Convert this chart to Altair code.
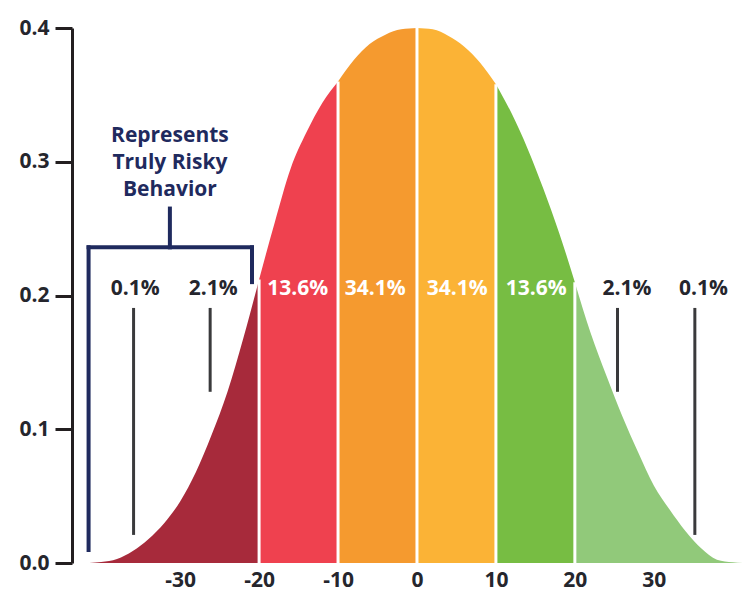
import altair as alt
import pandas as pd

# Curve (x in axis units, y = density)
curve_x = [-41.5, -40, -38, -36, -34, -32, -30, -28, -26, -24, -22, -20, -18, -16, -14, -12,
           -10, -8, -6, -4, -2, 0, 2, 4, 6, 8, 10, 12, 14, 16, 18, 20, 22, 24, 26, 28, 30,
           32, 34, 36, 38, 40, 41.5]
curve_y = [0.0, 0.0008, 0.003, 0.009, 0.018, 0.030, 0.046, 0.068, 0.096, 0.128, 0.168, 0.212,
           0.255, 0.295, 0.322, 0.344, 0.360, 0.376, 0.388, 0.395, 0.399, 0.400, 0.399, 0.394,
           0.386, 0.374, 0.358, 0.336, 0.310, 0.280, 0.247, 0.210, 0.172, 0.140, 0.110, 0.083,
           0.058, 0.040, 0.024, 0.011, 0.0025, 0.0005, 0.0]

boundaries = [-20, -10, 0, 10, 20]
seg_names = ["far left", "left 2", "left 1", "right 1", "right 2", "far right"]
seg_colors = ["#A72A3B", "#EF414F", "#F59A2F", "#FBB336", "#77BD43", "#91C97A"]

pct_labels = ["0.1%", "2.1%", "13.6%", "34.1%", "34.1%", "13.6%", "2.1%", "0.1%"]
pct_x = [-35.7, -25.8, -15.1, -5.3, 5.1, 15.1, 26.6, 36.3]
pct_dark = [True, True, False, False, False, False, True, True]

x_ticks = [-30, -20, -10, 0, 10, 20, 30]
y_ticks = [0.0, 0.1, 0.2, 0.3, 0.4]

bracket_text = ["Represents", "Truly Risky", "Behavior"]

FONT = "Open Sans"
DARK = "#25262D"
NAVY = "#1F2A5E"
GRAY = "#3A3A3C"

edges = [curve_x[0]] + boundaries + [curve_x[-1]]
rows = []
for i, name in enumerate(seg_names):
    lo, hi = edges[i], edges[i + 1]
    for x, y in zip(curve_x, curve_y):
        if lo <= x <= hi:
            rows.append({"x": x, "y": y, "seg": name})
df = pd.DataFrame(rows)
sep_df = pd.DataFrame([{"x": x, "y": y} for x, y in zip(curve_x, curve_y) if x in boundaries])

xs = alt.Scale(domain=[-43.7, 41.3], nice=False, zero=False)
ys = alt.Scale(domain=[0, 0.4], nice=False)

area = alt.Chart(df).mark_area(interpolate="monotone").encode(
    x=alt.X("x:Q", scale=xs, axis=alt.Axis(
        values=x_ticks, domain=False, ticks=False, grid=False, title=None,
        labelExpr="toString(datum.value)",
        labelFont=FONT, labelFontWeight="bold", labelFontSize=21, labelColor=DARK,
        labelPadding=6)),
    y=alt.Y("y:Q", scale=ys, stack=None, axis=alt.Axis(
        values=y_ticks, format=".1f", domain=True, domainColor="#231F20", domainWidth=3,
        ticks=True, tickColor="#231F20", tickWidth=3, tickSize=17, grid=False, title=None,
        labelFont=FONT, labelFontWeight="bold", labelFontSize=21, labelColor=DARK,
        labelPadding=6)),
    color=alt.Color("seg:N", scale=alt.Scale(domain=seg_names, range=seg_colors), legend=None),
)

seps = alt.Chart(sep_df).mark_rule(color="white", strokeWidth=3).encode(
    x="x:Q", y="y:Q", y2=alt.datum(0)
)

one = pd.DataFrame({"a": [0]})
layers = [area, seps]

for lab, px, dark in zip(pct_labels, pct_x, pct_dark):
    layers.append(
        alt.Chart(one).mark_text(
            text=lab, font=FONT, fontWeight="bold", fontSize=21,
            color=DARK if dark else "white", baseline="middle", align="center"
        ).encode(x=alt.datum(px), y=alt.datum(0.205))
    )

# indicator lines
for lx, top, bot in [(-35.9, 0.1907, 0.021), (-26.2, 0.1907, 0.128),
                     (25.4, 0.1907, 0.128), (35.2, 0.1907, 0.021)]:
    layers.append(
        alt.Chart(one).mark_rule(color=GRAY, strokeWidth=3).encode(
            x=alt.datum(lx), y=alt.datum(top), y2=alt.datum(bot))
    )

# bracket
bracket = [
    (-41.6, 0.236, 0.0097),
    (-20.9, 0.236, 0.21),
    (-31.3, 0.236, 0.265),
]
for x1, y1, y2 in bracket:
    layers.append(
        alt.Chart(one).mark_rule(color=NAVY, strokeWidth=4, strokeCap="square").encode(
            x=alt.datum(x1), y=alt.datum(y1), y2=alt.datum(y2))
    )
layers.append(
    alt.Chart(one).mark_rule(color=NAVY, strokeWidth=4, strokeCap="square").encode(
        x=alt.datum(-41.6), x2=alt.datum(-20.9), y=alt.datum(0.236))
)
layers.append(
    alt.Chart(one).mark_text(
        text=bracket_text, font=FONT, fontWeight="bold", fontSize=21, color=NAVY,
        lineHeight=27, baseline="middle", align="center"
    ).encode(x=alt.datum(-31.3), y=alt.datum(0.3190))
)

chart = alt.layer(*layers).properties(
    width=671, height=535,
    autosize=alt.AutoSizeParams(type="none"),
    padding={"left": 64, "top": 20, "right": 0, "bottom": 30},
).configure_view(stroke=None)

chart.save("out.html", embed_options={"renderer": "svg", "actions": False})
